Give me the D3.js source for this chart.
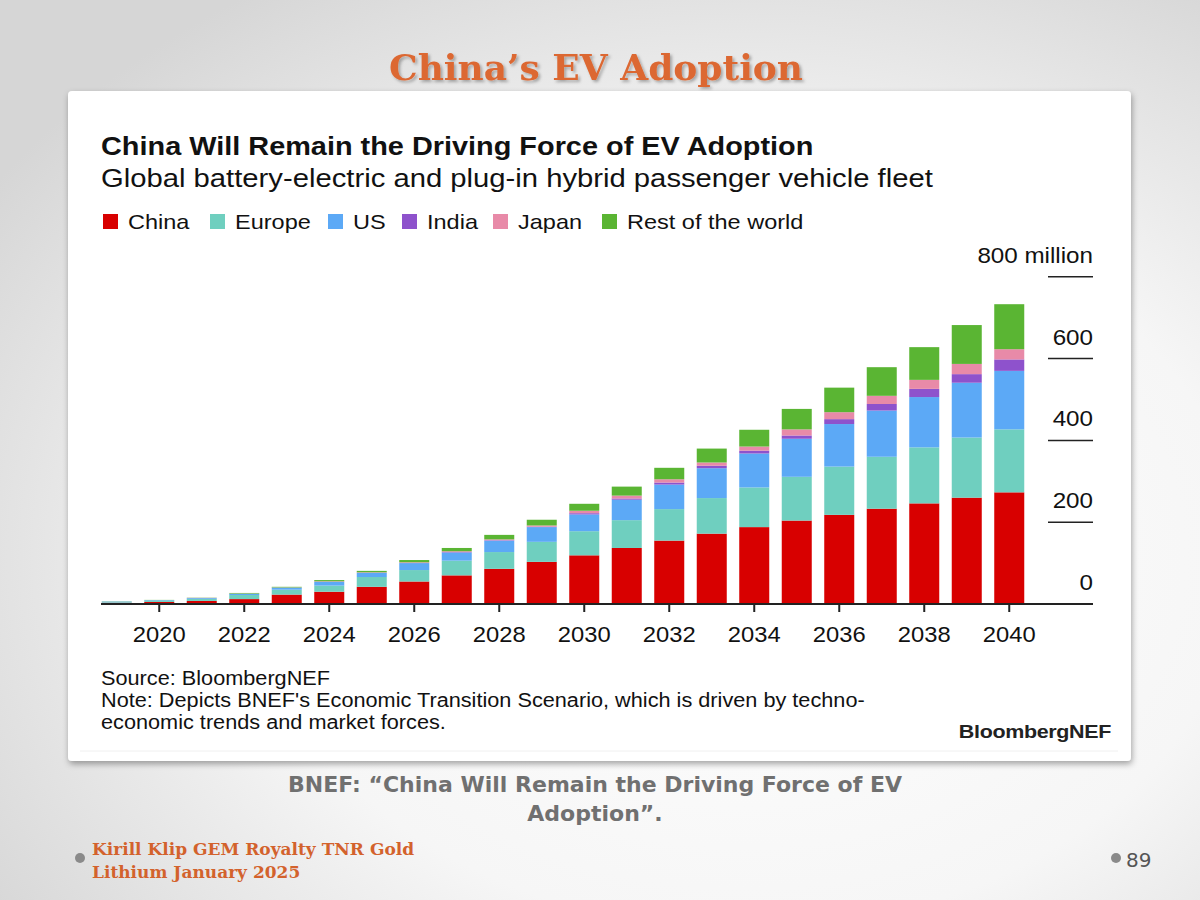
<!DOCTYPE html>
<html>
<head>
<meta charset="utf-8">
<script src="https://cdn.jsdelivr.net/npm/d3@7.9.0/dist/d3.min.js"></script>
<style>
  body { margin: 0; }
  svg { display: block; }
</style>
</head>
<body>
<div id="chart"></div>
<script>
// ------------------- Data -------------------
const years = [2019, 2020, 2021, 2022, 2023, 2024, 2025, 2026, 2027, 2028, 2029,
  2030, 2031, 2032, 2033, 2034, 2035, 2036, 2037, 2038, 2039, 2040];

// million vehicles
const china  = [3, 5, 7.5, 12, 23, 30, 42, 55, 70, 86, 103, 119, 137, 155, 172, 188, 204, 218, 233, 246, 260, 273];
const europe = [1.5, 3, 5, 10, 12, 15, 24, 28, 36, 41, 49, 59, 68, 77, 87, 97, 107, 118, 127, 137, 147, 154];
const us     = [1.5, 1.5, 2, 3, 5, 9, 10, 17, 20, 28, 36, 41, 50, 60, 73, 83, 93, 104, 113, 123, 134, 143];
const india  = [0, 0, 0, 0, 0, 0.5, 0.5, 0.5, 1, 1, 1, 3, 3, 5, 6, 7, 8, 12, 16, 20, 21, 28];
const japan  = [0, 0, 0.5, 0.5, 0.5, 1, 1, 1.5, 2, 2, 3, 6, 7, 8, 8, 10, 15, 17, 20, 22, 25, 25];
const rest   = [0.5, 0.5, 0.5, 1.5, 1.5, 3, 3.5, 5.5, 8, 11, 14, 17, 22, 28, 34, 41, 50, 60, 70, 80, 95, 110];

const seriesNames = ['China', 'Europe', 'US', 'India', 'Japan', 'Rest of the world'];
const seriesColors = ['#d80000', '#6fcfbf', '#5ca9f6', '#8e52cc', '#e88aa8', '#5ab533'];
const xTickYears = [2020, 2022, 2024, 2026, 2028, 2030, 2032, 2034, 2036, 2038, 2040];
const yTicks = [0, 200, 400, 600, 800];

// ------------------- Setup -------------------
const width = 1200, height = 900;
const svg = d3.select('#chart').append('svg')
  .attr('width', width)
  .attr('height', height);

const defs = svg.append('defs');

const bg = defs.append('radialGradient')
  .attr('id', 'bg')
  .attr('cx', '62%').attr('cy', '62%').attr('r', '75%');
bg.append('stop').attr('offset', '0%').attr('stop-color', '#ffffff');
bg.append('stop').attr('offset', '55%').attr('stop-color', '#f6f6f6');
bg.append('stop').attr('offset', '100%').attr('stop-color', '#d6d6d6');

const cardShadow = defs.append('filter').attr('id', 'cardShadow')
  .attr('x', '-5%').attr('y', '-5%').attr('width', '110%').attr('height', '115%');
cardShadow.append('feDropShadow')
  .attr('dx', 1).attr('dy', 3).attr('stdDeviation', 3)
  .attr('flood-color', '#000').attr('flood-opacity', 0.35);

const titleShadow = defs.append('filter').attr('id', 'titleShadow');
titleShadow.append('feDropShadow')
  .attr('dx', 2).attr('dy', 2).attr('stdDeviation', 1.5)
  .attr('flood-color', '#000').attr('flood-opacity', 0.3);

svg.append('rect')
  .attr('width', width).attr('height', height)
  .attr('fill', 'url(#bg)');

// the chart image in the slide is a little stretched sideways,
// so its text gets a horizontal scale
const sans = '"Liberation Sans", Arial, sans-serif';
function chartText(parent, x, y, sx, size, str) {
  return parent.append('text')
    .attr('transform', `translate(${x},${y}) scale(${sx},1)`)
    .attr('font-family', sans)
    .attr('font-size', size)
    .attr('fill', '#111')
    .text(str);
}

// slide title
svg.append('text')
  .attr('x', 596).attr('y', 80)
  .attr('text-anchor', 'middle')
  .attr('font-family', '"DejaVu Serif", "Liberation Serif", serif')
  .attr('font-weight', 'bold')
  .attr('font-size', 36)
  .attr('fill', '#dc6833')
  .attr('filter', 'url(#titleShadow)')
  .text('China’s EV Adoption');

// white card
svg.append('rect')
  .attr('x', 68).attr('y', 91)
  .attr('width', 1063).attr('height', 670)
  .attr('rx', 4)
  .attr('fill', '#fff')
  .attr('filter', 'url(#cardShadow)');

svg.append('line')
  .attr('x1', 80).attr('x2', 1118)
  .attr('y1', 751).attr('y2', 751)
  .attr('stroke', '#f0f0f0').attr('stroke-width', 1);

// chart title and subtitle
chartText(svg, 101, 155, 1.155, 25, 'China Will Remain the Driving Force of EV Adoption')
  .attr('font-weight', 'bold');
chartText(svg, 101, 187, 1.17, 25, 'Global battery-electric and plug-in hybrid passenger vehicle fleet');

// legend
const legendX = [103, 210, 328, 402, 493, 602];
const legend = svg.append('g').attr('class', 'legend');
seriesNames.forEach((name, i) => {
  legend.append('rect')
    .attr('x', legendX[i]).attr('y', 214)
    .attr('width', 15).attr('height', 15)
    .attr('fill', seriesColors[i]);
  chartText(legend, legendX[i] + 25, 229, 1.12, 21, name);
});

// ------------------- Scales -------------------
const x = d3.scaleBand()
  .domain(years)
  .range([95.5, 1030.5])
  .paddingInner(0.294)
  .paddingOuter(0.147);

const y = d3.scaleLinear()
  .domain([0, 800])
  .range([604, 276.8]);

const table = years.map((yr, i) => ({
  year: yr,
  China: china[i],
  Europe: europe[i],
  US: us[i],
  India: india[i],
  Japan: japan[i],
  'Rest of the world': rest[i]
}));

const stacked = d3.stack().keys(seriesNames)(table);

// ------------------- Bars -------------------
svg.append('g').attr('class', 'bars')
  .selectAll('g')
  .data(stacked)
  .join('g')
  .attr('fill', (d, i) => seriesColors[i])
  .selectAll('rect')
  .data(d => d)
  .join('rect')
  .attr('x', d => x(d.data.year))
  .attr('width', x.bandwidth())
  .attr('y', d => y(d[1]))
  .attr('height', d => y(d[0]) - y(d[1]));

// ------------------- Y axis (right side) -------------------
const yAxis = svg.append('g').attr('class', 'y-axis');
yAxis.selectAll('line')
  .data(yTicks.filter(d => d > 0))
  .join('line')
  .attr('x1', 1048).attr('x2', 1093)
  .attr('y1', d => y(d)).attr('y2', d => y(d))
  .attr('stroke', '#222').attr('stroke-width', 1.5);

yTicks.forEach(d => {
  chartText(yAxis, 1093, y(d) - 14, 1.1, 22, d === 800 ? '800 million' : d)
    .attr('text-anchor', 'end');
});

// baseline
svg.append('line')
  .attr('x1', 101).attr('x2', 1093)
  .attr('y1', y(0)).attr('y2', y(0))
  .attr('stroke', '#222').attr('stroke-width', 2);

// ------------------- X axis -------------------
const xAxis = svg.append('g')
  .attr('class', 'x-axis')
  .attr('transform', `translate(0,${y(0)})`)
  .call(d3.axisBottom(x).tickValues(xTickYears).tickSize(8).tickPadding(14));

xAxis.select('.domain').remove();
xAxis.selectAll('line').attr('stroke', '#222').attr('stroke-width', 2);
xAxis.selectAll('text')
  .attr('font-family', sans).attr('font-size', 22).attr('fill', '#111')
  .attr('transform', 'scale(1.08,1)');

// ------------------- Notes -------------------
const notes = [
  'Source: BloombergNEF',
  'Note: Depicts BNEF\'s Economic Transition Scenario, which is driven by techno-',
  'economic trends and market forces.'
];
notes.forEach((d, i) => chartText(svg, 101, 685 + i * 22, 1.085, 20, d));

chartText(svg, 1111, 738, 1.13, 19, 'BloombergNEF')
  .attr('text-anchor', 'end')
  .attr('font-weight', 'bold')
  .attr('fill', '#222')
  .attr('letter-spacing', -0.3);

// ------------------- Slide caption and footer -------------------
const caption = ['BNEF: “China Will Remain the Driving Force of EV', 'Adoption”.'];
svg.append('g').selectAll('text')
  .data(caption)
  .join('text')
  .attr('x', 595)
  .attr('y', (d, i) => 792 + i * 29)
  .attr('text-anchor', 'middle')
  .attr('font-family', '"DejaVu Sans", sans-serif').attr('font-weight', 'bold')
  .attr('font-size', 22).attr('fill', '#707070')
  .text(d => d);

svg.append('circle').attr('cx', 80).attr('cy', 858).attr('r', 5).attr('fill', '#8a8a8a');
const footer = ['Kirill Klip GEM Royalty TNR Gold', 'Lithium January 2025'];
svg.append('g').selectAll('text')
  .data(footer)
  .join('text')
  .attr('x', 92)
  .attr('y', (d, i) => 855 + i * 23)
  .attr('font-family', '"DejaVu Serif", "Liberation Serif", serif').attr('font-weight', 'bold')
  .attr('font-size', 17).attr('fill', '#d3622c')
  .text(d => d);

svg.append('circle').attr('cx', 1116).attr('cy', 858).attr('r', 5).attr('fill', '#8a8a8a');
svg.append('text')
  .attr('x', 1126).attr('y', 867)
  .attr('font-family', '"DejaVu Sans", sans-serif')
  .attr('font-size', 20).attr('fill', '#555')
  .text('89');
</script>
</body>
</html>
